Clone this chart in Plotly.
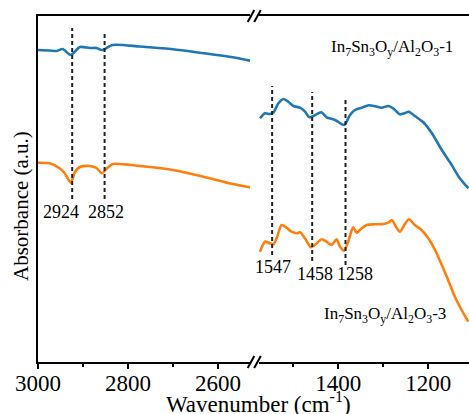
import plotly.graph_objects as go

# ---- spectra: wavenumber (cm-1) and absorbance (a.u.) ----
# high-wavenumber window (C-H stretching)
wn_hi_1 = [3000, 2974, 2959, 2945, 2927, 2907, 2885, 2870, 2858, 2834, 2774, 2700, 2641, 2567, 2525]
ab_hi_1 = [3.12, 3.115, 3.11, 3.13, 3.07, 3.15, 3.14, 3.14, 3.12, 3.17, 3.155, 3.127, 3.093, 3.047, 3.01]

wn_hi_3 = [3000, 2974, 2952, 2941, 2927, 2918, 2907, 2885, 2870, 2858, 2846, 2834, 2774, 2700, 2641, 2567, 2525]
ab_hi_3 = [1.993, 1.987, 1.937, 1.89, 1.793, 1.90, 1.95, 1.96, 1.94, 1.887, 1.94, 1.98, 1.96, 1.92, 1.863, 1.78, 1.743]

# low-wavenumber window
wn_lo_1 = [1574, 1563, 1552, 1544, 1533, 1522, 1511, 1500, 1485, 1474, 1464, 1452, 1438, 1426,
           1407, 1387, 1374, 1363, 1348, 1332, 1318, 1304, 1289, 1278, 1263, 1253, 1243, 1230,
           1211, 1192, 1170, 1148, 1130, 1111]
ab_lo_1 = [2.437, 2.487, 2.48, 2.497, 2.587, 2.63, 2.603, 2.56, 2.543, 2.503, 2.447, 2.467, 2.497, 2.447,
           2.42, 2.37, 2.47, 2.52, 2.543, 2.567, 2.557, 2.543, 2.56, 2.537, 2.477, 2.487, 2.503, 2.46,
           2.397, 2.287, 2.12, 1.97, 1.837, 1.737]

wn_lo_3 = [1574, 1563, 1552, 1544, 1537, 1526, 1515, 1504, 1492, 1485, 1474, 1461, 1448, 1437,
           1426, 1415, 1404, 1396, 1387, 1378, 1367, 1359, 1348, 1337, 1318, 1300, 1289, 1281,
           1272, 1263, 1252, 1243, 1230, 1215, 1200, 1185, 1170, 1156, 1141, 1126, 1111]
ab_lo_3 = [1.103, 1.203, 1.187, 1.177, 1.237, 1.37, 1.343, 1.303, 1.287, 1.297, 1.237, 1.147, 1.187, 1.227,
           1.203, 1.17, 1.227, 1.153, 1.113, 1.203, 1.347, 1.293, 1.337, 1.37, 1.377, 1.38, 1.393, 1.42,
           1.353, 1.303, 1.38, 1.427, 1.37, 1.32, 1.237, 1.12, 0.97, 0.82, 0.653, 0.52, 0.403]

# marked bands
bands_hi = [2924, 2852]
band_labels_hi = ["2924", "2852"]
bands_lo = [1547, 1458, 1384]
band_labels_lo = ["1547", "1458", "1258"]

series_names = ["In<sub>7</sub>Sn<sub>3</sub>O<sub>y</sub>/Al<sub>2</sub>O<sub>3</sub>-1",
                "In<sub>7</sub>Sn<sub>3</sub>O<sub>y</sub>/Al<sub>2</sub>O<sub>3</sub>-3"]

BLUE = "#1f77b4"
ORANGE = "#ff7f0e"
FONT = "Liberation Serif"

W, H = 469, 414
ML, MR, MT, MB = 38, 0, 16, 52
PW, PH = W - ML - MR, H - MT - MB


def px_x(p):
    return (p - ML) / PW


def px_y(p):
    return (H - MB - p) / PH


fig = go.Figure()


def curve(x, y, color, xa):
    fig.add_trace(go.Scatter(
        x=x, y=y, xaxis=xa, yaxis="y", mode="lines",
        line=dict(color=color, width=2.6, shape="spline", smoothing=0.7),
        showlegend=False, hoverinfo="skip"))


curve(wn_hi_1, ab_hi_1, BLUE, "x")
curve(wn_hi_3, ab_hi_3, ORANGE, "x")
curve(wn_lo_1, ab_lo_1, BLUE, "x2")
curve(wn_lo_3, ab_lo_3, ORANGE, "x2")

shapes = []
dash_style = dict(color="#222222", width=2, dash="4px,3px")
# dashed band markers (top, bottom in absorbance units)
hi_spans = [(3.34, 1.63), (3.30, 1.63)]
lo_spans = [(2.76, 1.07), (2.70, 1.01), (2.65, 0.97)]
for b, (y1, y0) in zip(bands_hi, hi_spans):
    shapes.append(dict(type="line", xref="x", yref="y", x0=b, x1=b, y0=y0, y1=y1, line=dash_style))
for b, (y1, y0) in zip(bands_lo, lo_spans):
    shapes.append(dict(type="line", xref="x2", yref="y", x0=b, x1=b, y0=y0, y1=y1, line=dash_style))

# axis-break marks
for yc in (MT, H - MB):
    for xc in (251.0, 257.5):
        shapes.append(dict(type="line", xref="paper", yref="paper",
                           x0=px_x(xc - 3.3), x1=px_x(xc + 3.3),
                           y0=px_y(yc + 6), y1=px_y(yc - 6),
                           line=dict(color="black", width=2)))

annotations = []
hi_label_x = [2949, 2849]
for t, xv in zip(band_labels_hi, hi_label_x):
    annotations.append(dict(text=t, xref="x", yref="y", x=xv, y=1.5, showarrow=False,
                            font=dict(family=FONT, size=18, color="black")))
lo_label_pos = [(1546, 0.953), (1452, 0.88), (1363, 0.88)]
for t, (xv, yv) in zip(band_labels_lo, lo_label_pos):
    annotations.append(dict(text=t, xref="x2", yref="y", x=xv, y=yv, showarrow=False,
                            font=dict(family=FONT, size=18, color="black")))

annotations.append(dict(text=series_names[0], xref="x2", yref="y", x=1280, y=3.14, showarrow=False,
                        font=dict(family=FONT, size=17, color="black")))
annotations.append(dict(text=series_names[1], xref="x2", yref="y", x=1296, y=0.47, showarrow=False,
                        font=dict(family=FONT, size=17, color="black")))

annotations.append(dict(text="Wavenumber (cm<sup>-1</sup>)", xref="paper", yref="paper",
                        x=px_x(258), y=px_y(402), showarrow=False, xanchor="center", yanchor="middle",
                        font=dict(family=FONT, size=23, color="black")))
annotations.append(dict(text="Absorbance (a.u.)", xref="paper", yref="paper",
                        x=px_x(21), y=px_y(206), showarrow=False, textangle=-90,
                        xanchor="center", yanchor="middle",
                        font=dict(family=FONT, size=21, color="black")))

xcommon = dict(showline=True, linecolor="black", linewidth=2, mirror=True,
               ticks="outside", ticklen=5, tickwidth=2, tickcolor="black",
               dtick=200, tick0=0, showgrid=False, zeroline=False,
               minor=dict(ticks="outside", ticklen=3, tickwidth=2, tickcolor="black",
                          dtick=100, tick0=0, showgrid=False),
               tickfont=dict(family=FONT, size=23, color="black"), ticklabelstandoff=-6)

fig.update_layout(
    width=W, height=H,
    margin=dict(l=ML, r=MR, t=MT, b=MB),
    plot_bgcolor="white", paper_bgcolor="white",
    showlegend=False,
    xaxis=dict(domain=[0, px_x(250)], range=[3000, 3000 - (250 - ML) / 0.45], anchor="y", **xcommon),
    xaxis2=dict(domain=[px_x(259), 1], range=[1400 + (338.3 - 259) / 0.45, 1400 - (469 - 338.3) / 0.45],
                anchor="y", **xcommon),
    yaxis=dict(domain=[0, 1], range=[0, 3.46], showline=True, linecolor="black", linewidth=2,
               showticklabels=False, ticks="", showgrid=False, zeroline=False),
    shapes=shapes,
    annotations=annotations,
)

fig.write_html("out.html")
